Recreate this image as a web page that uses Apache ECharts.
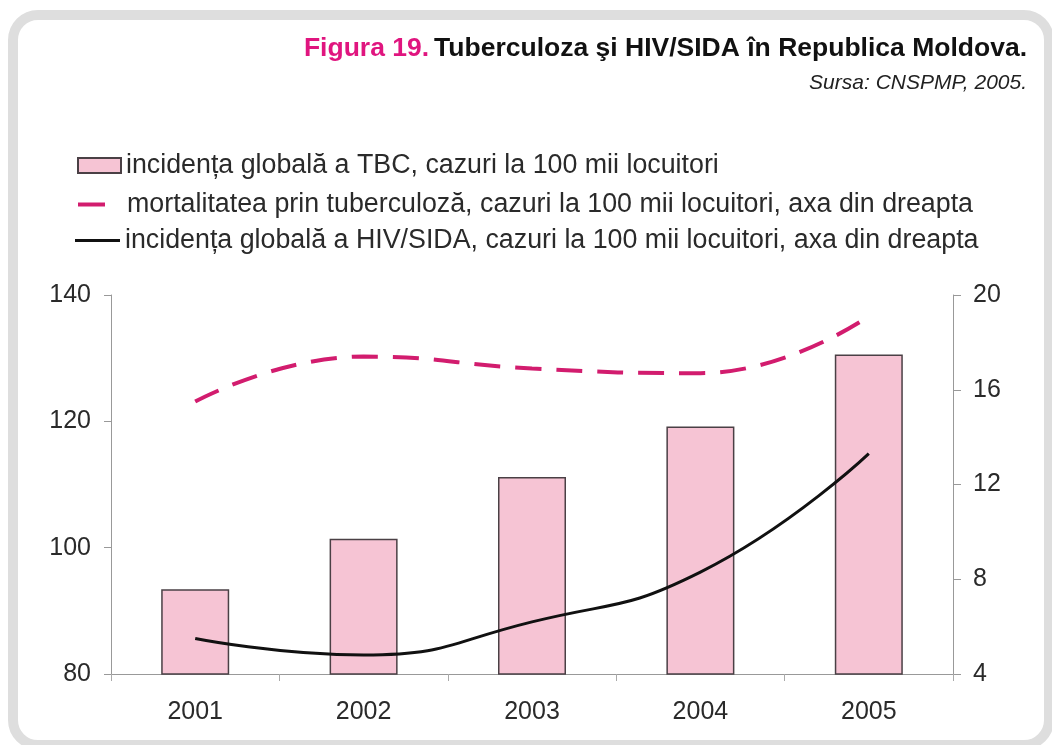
<!DOCTYPE html>
<html>
<head>
<meta charset="utf-8">
<script src="https://cdn.jsdelivr.net/npm/echarts@6/dist/echarts.min.js"></script>
<style>
  html, body { margin: 0; padding: 0; background: #ffffff; overflow: hidden; }
  #cadru {
    position: absolute; left: 8px; top: 10px; width: 1026px; height: 720px;
    border: 10px solid #dedede; border-radius: 30px; background: #fff;
  }
  #grafic { position: absolute; left: 0; top: 0; width: 1052px; height: 745px; }
</style>
</head>
<body>
<div id="cadru"></div>
<div id="grafic"></div>
<script>
// date
const ani = ['2001', '2002', '2003', '2004', '2005'];
const incidentaTBC = [93.4, 101.4, 111.2, 119.2, 130.6];     // axa stânga
const mortalitateTBC = [15.5, 17.4, 16.9, 16.7, 19.1];       // axa dreapta
const incidentaHIV = [5.5, 4.8, 6.2, 8.3, 13.3];             // axa dreapta

const numeTBC = 'incidența globală a TBC, cazuri la 100 mii locuitori';
const numeMort = 'mortalitatea prin tuberculoză, cazuri la 100 mii locuitori, axa din dreapta';
const numeHIV = 'incidența globală a HIV/SIDA, cazuri la 100 mii locuitori, axa din dreapta';

const font = 'Liberation Sans, Arial, sans-serif';
const textLegenda = { color: '#2a2a2a', fontSize: 26.8, fontFamily: font };

var grafic = echarts.init(document.getElementById('grafic'));
var optiuni = {
  animation: false,
  title: [{
    text: '{a|Figura 19.} {b|Tuberculoza şi HIV/SIDA în Republica Moldova.}',
    right: 20,
    top: 30,
    textStyle: {
      rich: {
        a: { color: '#e0157f', fontSize: 26.5, fontWeight: 'bold', fontFamily: font },
        b: { color: '#111', fontSize: 26.5, fontWeight: 'bold', fontFamily: font }
      }
    }
  }, {
    text: 'Sursa: CNSPMP, 2005.',
    right: 20,
    top: 68,
    textStyle: { color: '#222', fontSize: 21, fontStyle: 'italic', fontWeight: 'normal', fontFamily: font }
  }],
  legend: [{
    data: [numeTBC],
    left: 72, top: 147,
    icon: 'rect',
    itemWidth: 43, itemHeight: 15,
    textStyle: textLegenda
  }, {
    data: [numeMort],
    left: 73, top: 186,
    icon: 'rect',
    itemWidth: 27, itemHeight: 4,
    itemStyle: { color: '#d21c6e', borderWidth: 0 },
    textStyle: Object.assign({ padding: [0, 0, 0, 17] }, textLegenda)
  }, {
    data: [numeHIV],
    left: 70, top: 222,
    icon: 'rect',
    itemWidth: 45, itemHeight: 3,
    itemStyle: { color: '#111', borderWidth: 0 },
    textStyle: textLegenda
  }],
  grid: { left: 111, right: 99, top: 295, bottom: 71 },
  xAxis: {
    type: 'category',
    data: ani,
    axisLine: { lineStyle: { color: '#999', width: 1 } },
    axisTick: { show: true, length: 7, lineStyle: { color: '#aaa' } },
    axisLabel: { color: '#2a2a2a', fontSize: 25, margin: 26, fontFamily: font },
    splitLine: { show: false }
  },
  yAxis: [{
    type: 'value',
    min: 80, max: 140, interval: 20,
    axisLine: { show: true, lineStyle: { color: '#999', width: 1 } },
    axisTick: { show: true, length: 7, lineStyle: { color: '#999' } },
    axisLabel: { color: '#2a2a2a', fontSize: 25, margin: 20, fontFamily: font },
    splitLine: { show: false }
  }, {
    type: 'value',
    min: 4, max: 20, interval: 4,
    axisLine: { show: true, lineStyle: { color: '#999', width: 1 } },
    axisTick: { show: true, length: 8, lineStyle: { color: '#999' } },
    axisLabel: { color: '#2a2a2a', fontSize: 25, margin: 20, fontFamily: font },
    splitLine: { show: false }
  }],
  series: [{
    name: numeTBC,
    type: 'bar',
    data: incidentaTBC,
    barWidth: 68,
    itemStyle: { color: '#f6c4d4', borderColor: '#4a4045', borderWidth: 1.5 }
  }, {
    name: numeMort,
    type: 'line',
    yAxisIndex: 1,
    data: mortalitateTBC,
    smooth: 0.5,
    symbol: 'none',
    lineStyle: { color: '#d21c6e', width: 4, type: [26, 15] },
    itemStyle: { color: '#d21c6e' }
  }, {
    name: numeHIV,
    type: 'line',
    yAxisIndex: 1,
    data: incidentaHIV,
    smooth: 0.5,
    symbol: 'none',
    lineStyle: { color: '#111', width: 3 },
    itemStyle: { color: '#111' }
  }]
};
grafic.setOption(optiuni);
window.addEventListener('resize', () => grafic.resize());
</script>
</body>
</html>
